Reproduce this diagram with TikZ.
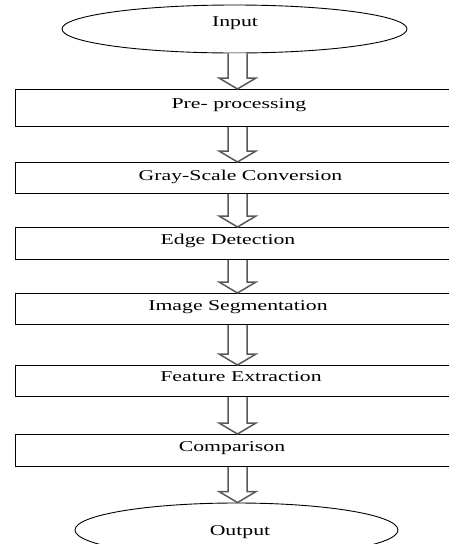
\documentclass[tikz,border=0pt]{standalone}
\usepackage{fontspec}
\setmainfont[FakeStretch=1.45]{Liberation Serif}
\usetikzlibrary{shapes.geometric,calc}
\newcommand\myblockarrow[2]{%
  \draw[barrow] ($(#1.south -| ax)+(-9.5,0)$) -- ($(#2.north -| ax)+(-9.5,-11)$)
    -- ($(#2.north -| ax)+(-18.5,-11)$) -- (#2.north -| ax)
    -- ($(#2.north -| ax)+(18.5,-11)$) -- ($(#2.north -| ax)+(9.5,-11)$)
    -- ($(#1.south -| ax)+(9.5,0)$);}
\begin{document}
\begin{tikzpicture}[x=1pt,y=-1pt,
  stepbox/.style={draw=black, line width=1.1pt, rectangle, anchor=north west,
    minimum width=455pt, inner sep=0pt},
  term/.style={draw=black, line width=0.9pt, ellipse, inner sep=0pt},
  lbl/.style={anchor=base, inner sep=0pt, font=\fontsize{15}{18}\selectfont},
  barrow/.style={draw=gray!70!black, line width=1.5pt, fill=white, line join=miter}]
\useasboundingbox (0,0) rectangle (449,544);
\clip (0,0) rectangle (449,544);
\fill[white] (0,0) rectangle (449,544);
\coordinate (ax) at (237.5,0);
% terminals
\node[term, minimum width=345pt, minimum height=48pt] (in) at (234.5,29) {};
\node[term, minimum width=323pt, minimum height=54pt] (out) at (236.5,530) {};
% process boxes
\node[stepbox, minimum height=37pt] (b1) at (15,89) {};
\node[stepbox, minimum height=31pt] (b2) at (15,162) {};
\node[stepbox, minimum height=32pt] (b3) at (15,227) {};
\node[stepbox, minimum height=31pt] (b4) at (15,293) {};
\node[stepbox, minimum height=31pt] (b5) at (15,365) {};
\node[stepbox, minimum height=32pt] (b6) at (15,434) {};
% labels
\node[lbl] (tin) at (235,26.7) {Input};
\node[lbl] (t1) at (239,108) {Pre- processing};
\node[lbl] (t2) at (240.5,180) {Gray-Scale Conversion};
\node[lbl] (t3) at (228,244.3) {Edge Detection};
\node[lbl] (t4) at (238,310.7) {Image Segmentation};
\node[lbl] (t5) at (241,381.7) {Feature Extraction};
\node[lbl] (t6) at (232,451.7) {Comparison};
\node[lbl] (tout) at (240,535) {Output};
% block arrows
\myblockarrow{in}{b1}
\myblockarrow{b1}{b2}
\myblockarrow{b2}{b3}
\myblockarrow{b3}{b4}
\myblockarrow{b4}{b5}
\myblockarrow{b5}{b6}
\myblockarrow{b6}{out}
\end{tikzpicture}
\end{document}
